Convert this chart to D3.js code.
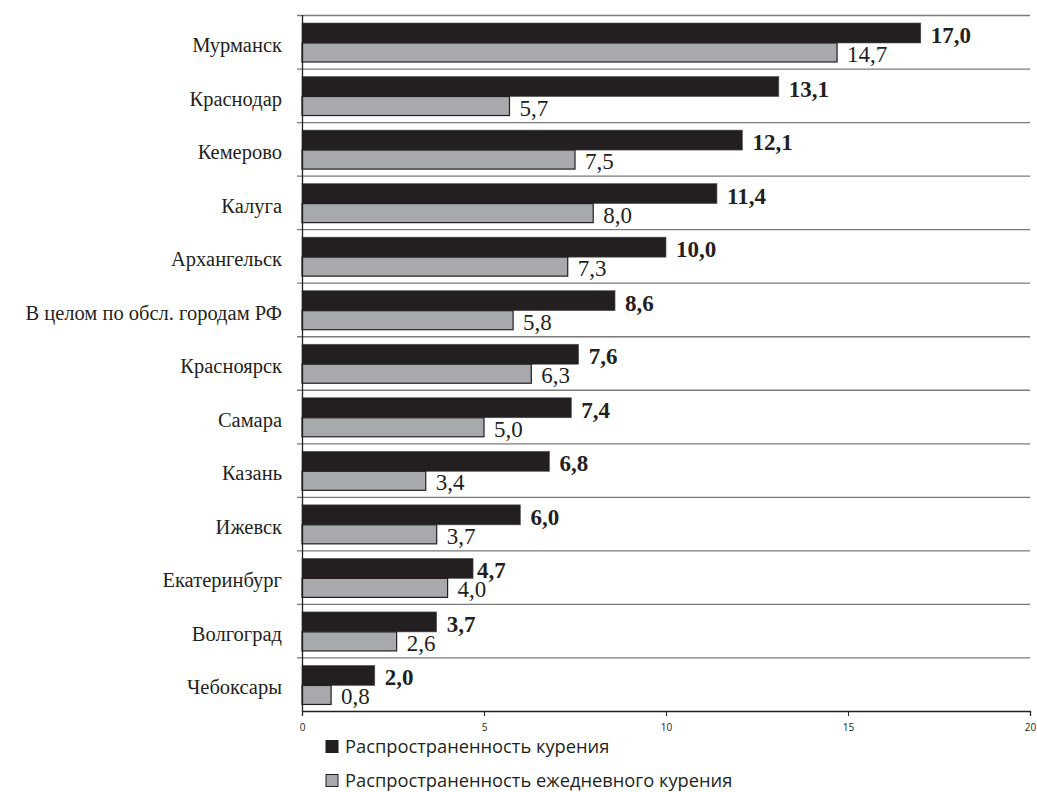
<!DOCTYPE html>
<html>
<head>
<meta charset="utf-8">
<script src="https://cdnjs.cloudflare.com/ajax/libs/d3/7.8.5/d3.min.js"></script>
<style>
  body { margin: 0; background: #fff; }
</style>
</head>
<body>
<div id="chart"></div>
<script>
// data
var cities = ["Мурманск", "Краснодар", "Кемерово", "Калуга", "Архангельск",
    "В целом по обсл. городам РФ", "Красноярск", "Самара", "Казань", "Ижевск",
    "Екатеринбург", "Волгоград", "Чебоксары"];
var smoking = [17.0, 13.1, 12.1, 11.4, 10.0, 8.6, 7.6, 7.4, 6.8, 6.0, 4.7, 3.7, 2.0];
var dailySmoking = [14.7, 5.7, 7.5, 8.0, 7.3, 5.8, 6.3, 5.0, 3.4, 3.7, 4.0, 2.6, 0.8];
var seriesNames = ["Распространенность курения", "Распространенность ежедневного курения"];
var xTicks = [0, 5, 10, 15, 20];

var W = 1037, H = 792;
var margin = { top: 15, right: 7, bottom: 81, left: 302 };
var width = W - margin.left - margin.right;
var height = H - margin.top - margin.bottom;
var serif = "'Liberation Serif', 'Times New Roman', serif";

var svg = d3.select("#chart").append("svg")
    .attr("width", W).attr("height", H);
var g = svg.append("g")
    .attr("transform", "translate(" + margin.left + "," + margin.top + ")");

var x = d3.scaleLinear().domain([0, 20]).range([0, 728]);
var y = d3.scaleBand().domain(cities).range([0, height]);
var fmt = function (v) { return v.toFixed(1).replace(".", ","); };

// horizontal grid lines on row boundaries
var bounds = cities.map(function (c) { return y(c); });
g.selectAll(".grid").data(bounds).enter().append("line")
    .attr("x1", -5).attr("x2", x(20))
    .attr("y1", function (d) { return d + 0.5; })
    .attr("y2", function (d) { return d + 0.5; })
    .attr("stroke", "#7a7a7a").attr("stroke-width", 1.3);

var rows = g.selectAll(".row").data(cities).enter().append("g")
    .attr("transform", function (d) { return "translate(0," + y(d) + ")"; });

rows.append("rect")
    .attr("x", 0).attr("y", 8)
    .attr("width", function (d, i) { return x(smoking[i]); })
    .attr("height", 20)
    .attr("fill", "#231f20").attr("stroke", "#555").attr("stroke-width", 0.6);

rows.append("rect")
    .attr("x", 0).attr("y", 28)
    .attr("width", function (d, i) { return x(dailySmoking[i]); })
    .attr("height", 19)
    .attr("fill", "#a7a9ac").attr("stroke", "#231f20").attr("stroke-width", 1.2);

rows.append("text")
    .attr("x", function (d, i) { return x(smoking[i]) + (i == 10 ? 4 : 10); })
    .attr("y", 28)
    .attr("font-family", serif)
    .attr("font-size", 23).attr("font-weight", "bold").attr("fill", "#231f20")
    .text(function (d, i) { return fmt(smoking[i]); });

rows.append("text")
    .attr("x", function (d, i) { return x(dailySmoking[i]) + 10; })
    .attr("y", 47)
    .attr("font-family", serif)
    .attr("font-size", 23).attr("fill", "#231f20")
    .text(function (d, i) { return fmt(dailySmoking[i]); });

// category labels
rows.append("text")
    .attr("x", -20).attr("y", 37)
    .attr("text-anchor", "end")
    .attr("font-family", serif)
    .attr("font-size", 20.5).attr("fill", "#231f20")
    .text(function (d) { return d; });

// left axis
g.append("line").attr("x1", 0.5).attr("x2", 0.5).attr("y1", 0).attr("y2", height)
    .attr("stroke", "#231f20").attr("stroke-width", 1.3);

// bottom axis
var xAxis = g.append("g").attr("transform", "translate(0," + height + ")")
    .call(d3.axisBottom(x).tickValues(xTicks).tickSize(5).tickPadding(8));
xAxis.select(".domain").attr("stroke", "#231f20").attr("stroke-width", 1.3);
xAxis.selectAll("line").attr("stroke", "#231f20");
xAxis.selectAll("text")
    .attr("font-family", "'Open Sans', sans-serif").attr("font-size", 10).attr("fill", "#231f20");

// legend
var legend = svg.append("g").attr("transform", "translate(326,740)");
var colors = ["#231f20", "#a7a9ac"];
seriesNames.forEach(function (name, i) {
    var lg = legend.append("g").attr("transform", "translate(0," + i * 34 + ")");
    lg.append("rect").attr("x", 0).attr("y", 0.5).attr("width", 12).attr("height", 12)
        .attr("fill", colors[i]).attr("stroke", "#231f20").attr("stroke-width", 1);
    lg.append("text").attr("x", 19).attr("y", 13)
        .attr("font-family", "'Open Sans', sans-serif").attr("font-size", 18.3).attr("fill", "#231f20")
        .text(name);
});
</script>
</body>
</html>
